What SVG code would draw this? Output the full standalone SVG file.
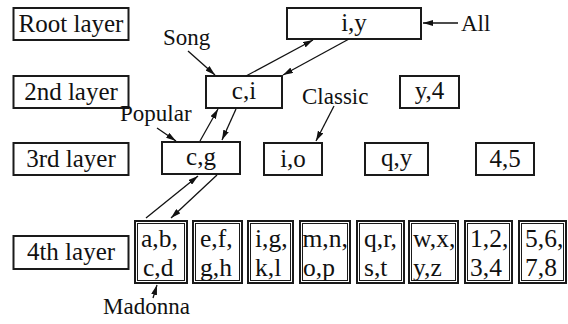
<svg xmlns="http://www.w3.org/2000/svg" width="568" height="324" viewBox="0 0 568 324">
<style>
.box{fill:#fff;stroke:#1a1a1a;stroke-width:2}
.inner{fill:none;stroke:#1a1a1a;stroke-width:1}
text{font-family:"Liberation Serif","Times New Roman",serif;font-size:25px;fill:#111}
.lbl{font-size:23px}
.leaf{font-size:25.5px}
.c{text-anchor:middle}
.con line{stroke:#111;stroke-width:1.3}
</style>
<defs>
<marker id="ah" viewBox="0 0 10 6" refX="10" refY="3" markerWidth="10" markerHeight="6" markerUnits="userSpaceOnUse" orient="auto">
<path d="M0,0 L10,3 L0,6 Z" fill="#111"/>
</marker>
</defs>
<g id="root-layer"><rect class="box" x="13.5" y="8" width="115" height="32"/><text class="c" x="71" y="32">Root layer</text></g>
<g id="n-iy"><rect class="box" x="287" y="8" width="134" height="31"/><text class="c" x="354" y="31">i,y</text></g>
<g id="lbl-all"><text class="lbl" x="461" y="31">All</text></g>
<g id="lbl-song"><text class="lbl" x="163" y="45">Song</text></g>
<g id="layer2"><rect class="box" x="13.5" y="76" width="115" height="32"/><text class="c" x="71" y="100">2nd layer</text></g>
<g id="n-ci"><rect class="box" x="206" y="76" width="76" height="32"/><text class="c" x="244" y="99">c,i</text></g>
<g id="n-y4"><rect class="box" x="400" y="76" width="59" height="32"/><text class="c" x="429.5" y="99">y,4</text></g>
<g id="lbl-classic"><text class="lbl" x="302" y="104">Classic</text></g>
<g id="lbl-popular"><text class="lbl" x="120" y="121">Popular</text></g>
<g id="layer3"><rect class="box" x="13.5" y="143" width="115" height="32"/><text class="c" x="71" y="167">3rd layer</text></g>
<g id="n-cg"><rect class="box" x="162" y="142" width="78" height="32"/><text class="c" x="201" y="165">c,g</text></g>
<g id="n-io"><rect class="box" x="264" y="143" width="58" height="32"/><text class="c" x="293" y="167">i,o</text></g>
<g id="n-qy"><rect class="box" x="365" y="143" width="63" height="32"/><text class="c" x="396.5" y="166">q,y</text></g>
<g id="n-45"><rect class="box" x="476" y="143" width="58" height="32"/><text class="c" x="505" y="167">4,5</text></g>
<g id="layer4"><rect class="box" x="13.5" y="236" width="115" height="33"/><text class="c" x="71" y="260">4th layer</text></g>
<g id="leaf-abcd"><rect class="box" x="135" y="221" width="52" height="62"/><rect class="inner" x="137.5" y="223.5" width="47" height="57"/><text class="leaf" x="141" y="247">a,b,</text><text class="leaf" x="143" y="276">c,d</text></g>
<g id="leaf-efgh"><rect class="box" x="193" y="221" width="49" height="62"/><rect class="inner" x="195.5" y="223.5" width="44" height="57"/><text class="leaf" x="200" y="247">e,f,</text><text class="leaf" x="200" y="276">g,h</text></g>
<g id="leaf-igkl"><rect class="box" x="248" y="221" width="45" height="62"/><rect class="inner" x="250.5" y="223.5" width="40" height="57"/><text class="leaf" x="255" y="247">i,g,</text><text class="leaf" x="255" y="276">k,l</text></g>
<g id="leaf-mnop"><rect class="box" x="300" y="221" width="50" height="62"/><rect class="inner" x="302.5" y="223.5" width="45" height="57"/><text class="leaf" x="302.5" y="247">m,n,</text><text class="leaf" x="303" y="276">o,p</text></g>
<g id="leaf-qrst"><rect class="box" x="357" y="221" width="47" height="62"/><rect class="inner" x="359.5" y="223.5" width="42" height="57"/><text class="leaf" x="364" y="247">q,r,</text><text class="leaf" x="364" y="276">s,t</text></g>
<g id="leaf-wxyz"><rect class="box" x="409" y="221" width="49" height="62"/><rect class="inner" x="411.5" y="223.5" width="44" height="57"/><text class="leaf" x="413" y="247">w,x,</text><text class="leaf" x="413" y="276">y,z</text></g>
<g id="leaf-1234"><rect class="box" x="465" y="221" width="47" height="62"/><rect class="inner" x="467.5" y="223.5" width="42" height="57"/><text class="leaf" x="470" y="247">1,2,</text><text class="leaf" x="470" y="276">3,4</text></g>
<g id="leaf-5678"><rect class="box" x="519" y="221" width="47" height="62"/><rect class="inner" x="521.5" y="223.5" width="42" height="57"/><text class="leaf" x="525" y="247">5,6,</text><text class="leaf" x="525" y="276">7,8</text></g>
<g id="lbl-madonna"><text class="lbl" x="103" y="314">Madonna</text></g>
<g class="con" id="connectors">
<line x1="458" y1="23" x2="423" y2="23" marker-end="url(#ah)"/>
<line x1="188" y1="51" x2="215" y2="75" marker-end="url(#ah)"/>
<line x1="246" y1="76" x2="313" y2="40" marker-end="url(#ah)"/>
<line x1="349" y1="39" x2="283" y2="75" marker-end="url(#ah)"/>
<line x1="334" y1="106" x2="316" y2="141" marker-end="url(#ah)"/>
<line x1="157" y1="128" x2="176" y2="141" marker-end="url(#ah)"/>
<line x1="200" y1="141" x2="218" y2="109" marker-end="url(#ah)"/>
<line x1="236" y1="109" x2="222" y2="140" marker-end="url(#ah)"/>
<line x1="146" y1="218" x2="198" y2="176" marker-end="url(#ah)"/>
<line x1="217" y1="175" x2="171" y2="218" marker-end="url(#ah)"/>
<line x1="153" y1="298" x2="157" y2="285" marker-end="url(#ah)"/>
</g>
</svg>
